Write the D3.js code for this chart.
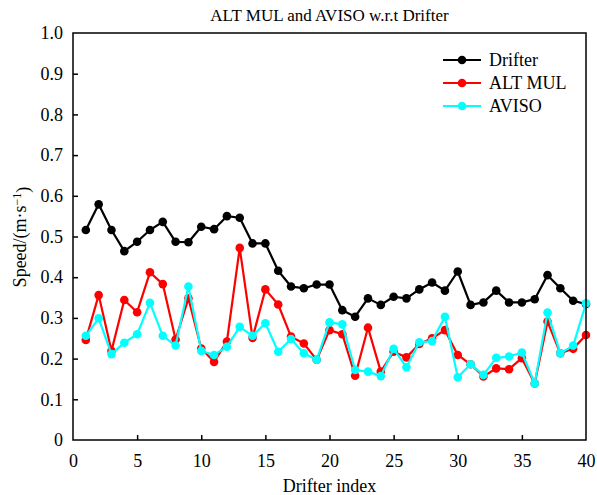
<!DOCTYPE html>
<html>
<head>
<meta charset="utf-8">
<script src="https://cdn.jsdelivr.net/npm/d3@7"></script>
<style>
  body { margin: 0; background: #fff; }
  svg { display: block; }
  text { font-family: "Liberation Serif", "Times New Roman", serif; fill: #000; }
</style>
</head>
<body>
<svg id="chart" width="597" height="495"></svg>
<script>
const titleText = "ALT MUL and AVISO w.r.t Drifter";
const xLabel = "Drifter index";
const seriesNames = ["Drifter", "ALT MUL", "AVISO"];
const seriesColors = ["#000000", "#ff0000", "#00ffff"];
const xTicks = [0, 5, 10, 15, 20, 25, 30, 35, 40];
const yTicks = [0, 0.1, 0.2, 0.3, 0.4, 0.5, 0.6, 0.7, 0.8, 0.9, 1.0];
const index = d3.range(1, 41);
const drifter = [0.516, 0.579, 0.516, 0.464, 0.487, 0.516, 0.536, 0.487, 0.486, 0.524,
                 0.518, 0.550, 0.546, 0.483, 0.483, 0.416, 0.377, 0.373, 0.382, 0.382,
                 0.319, 0.303, 0.348, 0.332, 0.352, 0.348, 0.370, 0.387, 0.367, 0.414,
                 0.332, 0.338, 0.367, 0.338, 0.338, 0.346, 0.405, 0.373, 0.342, 0.334];
const altMul = [0.246, 0.356, 0.219, 0.344, 0.314, 0.412, 0.383, 0.247, 0.348, 0.225,
                0.192, 0.242, 0.472, 0.251, 0.370, 0.333, 0.254, 0.237, 0.197, 0.270,
                0.260, 0.158, 0.276, 0.168, 0.217, 0.203, 0.236, 0.250, 0.270, 0.209,
                0.186, 0.156, 0.176, 0.174, 0.201, 0.139, 0.291, 0.213, 0.224, 0.258];
const aviso = [0.256, 0.299, 0.211, 0.239, 0.260, 0.337, 0.256, 0.232, 0.377, 0.219,
               0.209, 0.229, 0.278, 0.256, 0.287, 0.217, 0.248, 0.213, 0.197, 0.289,
               0.284, 0.172, 0.168, 0.157, 0.224, 0.179, 0.240, 0.243, 0.303, 0.154,
               0.186, 0.160, 0.202, 0.205, 0.215, 0.139, 0.313, 0.213, 0.232, 0.336];
const allSeries = [drifter, altMul, aviso];

const svg = d3.select("#chart");
const mLeft = 73, mRight = 586, mTop = 33, mBottom = 440;
const x = d3.scaleLinear().domain([0, 40]).range([mLeft, mRight]);
const y = d3.scaleLinear().domain([0, 1]).range([mBottom, mTop]);

// axes
const xAxis = d3.axisBottom(x).tickValues(xTicks).tickSizeInner(-5).tickSizeOuter(0).tickPadding(14)
  .tickFormat(d3.format("d"));
const yAxis = d3.axisLeft(y).tickValues(yTicks).tickSizeInner(-5).tickSizeOuter(0).tickPadding(10)
  .tickFormat(d => d === 0 ? "0" : d3.format(".1f")(d));

const gx = svg.append("g").attr("transform", `translate(0,${mBottom})`).call(xAxis);
const gy = svg.append("g").attr("transform", `translate(${mLeft},0)`).call(yAxis);
[gx, gy].forEach(g => {
  g.select(".domain").remove();
  g.selectAll("text").style("font-size", "18px").style("font-family", "'Liberation Serif', serif");
  g.selectAll("line").attr("stroke", "#000").attr("stroke-width", 1.5);
});
gx.selectAll(".tick").filter(d => d === 0 || d === 40).select("line").remove();
gy.selectAll(".tick").filter(d => d === 0 || d === 1).select("line").remove();

// series
const line = d3.line().x((d, i) => x(index[i])).y(d => y(d));
allSeries.forEach((data, s) => {
  const g = svg.append("g");
  g.append("path").datum(data).attr("d", line)
    .attr("fill", "none").attr("stroke", seriesColors[s]).attr("stroke-width", 2.2)
    .attr("stroke-linejoin", "round");
  g.selectAll("circle").data(data).join("circle")
    .attr("cx", (d, i) => x(index[i])).attr("cy", d => y(d)).attr("r", 4.3)
    .attr("fill", seriesColors[s]);
});

// frame
svg.append("rect").attr("x", mLeft).attr("y", mTop).attr("width", mRight - mLeft).attr("height", mBottom - mTop)
  .attr("fill", "none").attr("stroke", "#000").attr("stroke-width", 1.5);

// title & labels
svg.append("text").attr("x", (mLeft + mRight) / 2).attr("y", 21).attr("text-anchor", "middle")
  .style("font-size", "17px").text(titleText);
svg.append("text").attr("x", (mLeft + mRight) / 2).attr("y", 492).attr("text-anchor", "middle")
  .style("font-size", "18px").text(xLabel);
const yl = svg.append("text").attr("transform", "translate(26,237) rotate(-90)").attr("text-anchor", "middle")
  .style("font-size", "18px");
yl.append("tspan").text("Speed/(m·s");
yl.append("tspan").attr("dy", "-0.45em").style("font-size", "12px").text("−1");
yl.append("tspan").attr("dy", "0.45em").text(")");

// legend
const legendY = [60, 83, 106];
seriesNames.forEach((name, s) => {
  const ly = legendY[s];
  svg.append("line").attr("x1", 443).attr("x2", 481).attr("y1", ly).attr("y2", ly)
    .attr("stroke", seriesColors[s]).attr("stroke-width", 2.2);
  svg.append("circle").attr("cx", 462).attr("cy", ly).attr("r", 4.3).attr("fill", seriesColors[s]);
  svg.append("text").attr("x", 489).attr("y", ly + 6).style("font-size", "18px").text(name);
});
</script>
</body>
</html>
